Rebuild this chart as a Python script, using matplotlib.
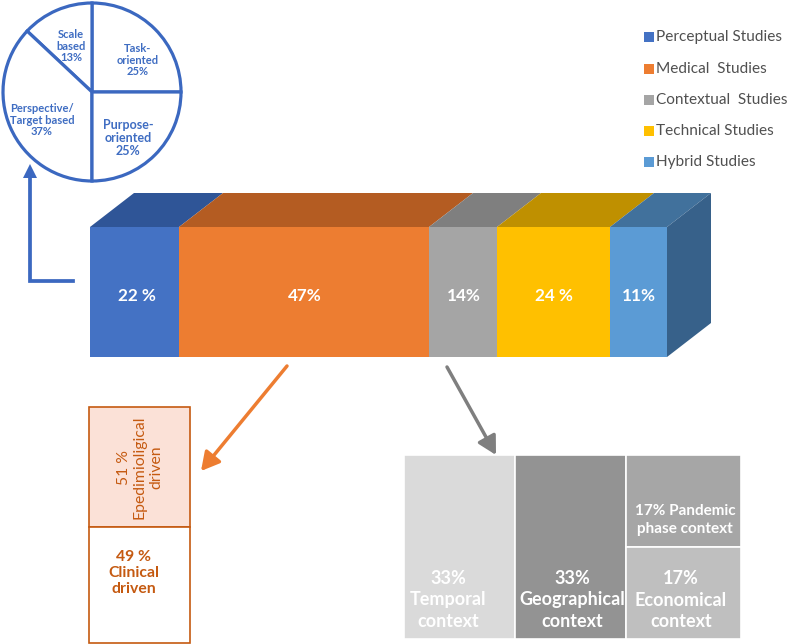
import numpy as np
import matplotlib
matplotlib.use('Agg')
import matplotlib.pyplot as plt
from matplotlib.patches import Polygon, Rectangle

plt.rcParams['font.family'] = ['Lato', 'DejaVu Sans']

# main bar (study types)
categories = ['Perceptual Studies', 'Medical  Studies', 'Contextual  Studies',
              'Technical Studies', 'Hybrid Studies']
shares = [22, 47, 14, 24, 11]
share_labels = ['22 %', '47%', '14%', '24 %', '11%']
bar_widths = [89, 250, 68, 113, 57]   # drawn widths (infographic, not to scale)
front_cols = ['#4472C4', '#ED7D31', '#A5A5A5', '#FFC000', '#5B9BD5']
top_cols = ['#2F5597', '#B45C22', '#7F7F7F', '#BF9000', '#41719C']

# pie (perceptual studies breakdown)
pie_labels = ['Task-\noriented\n25%', 'Scale\nbased\n13%',
              'Perspective/\nTarget based\n37%', 'Purpose-\noriented\n25%']
pie_values = [25, 13, 37, 25]

# medical breakdown
med_labels = ['51 %\nEpedimioligical\ndriven', '49 %\nClinical\ndriven']
med_values = [51, 49]

# contextual breakdown (treemap)
ctx_labels = ['33%\nTemporal\ncontext', '33%\nGeographical\ncontext',
              '17% Pandemic\nphase context', '17%\nEconomical\ncontext']
ctx_values = [33, 33, 17, 17]
ctx_cols = ['#DADADA', '#939393', '#A6A6A6', '#BFBFBF']

blue = '#3B68C0'
dark_orange = '#C55A11'

fig = plt.figure(figsize=(7.87, 6.44), dpi=100)
ax = fig.add_axes([0, 0, 1, 1])

# ---- pie
ax.pie(pie_values, center=(92, 92), radius=89, startangle=0, counterclock=False,
       frame=True, wedgeprops=dict(facecolor='white', edgecolor=blue, linewidth=2.3))
pie_pos = [(138, 60), (71, 46), (42, 120), (128, 138)]
pie_fs = [8.0, 8.0, 8.0, 9.0]
for lab, (x, y), fs in zip(pie_labels, pie_pos, pie_fs):
    ax.text(x, y, lab, ha='center', va='center', color='#3F6DC2', fontsize=fs,
            fontweight='bold', linespacing=1.1)

# L-shaped arrow back to pie
ax.plot([73, 30, 30], [281, 281, 176], color=blue, lw=2.7, solid_joinstyle='miter')
ax.add_patch(Polygon([(30, 164), (23, 178), (37, 178)], closed=True,
                     facecolor=blue, edgecolor='none'))

# ---- 3d stacked bar
y0, h = 227, 130
dx, dy = 44, -34
lefts = 90 + np.concatenate([[0], np.cumsum(bar_widths)[:-1]])
ax.barh(y0 + h / 2, bar_widths, left=lefts, height=h, color=front_cols, linewidth=0)
for l, w, c in zip(lefts, bar_widths, top_cols):
    ax.add_patch(Polygon([(l, y0), (l + w, y0), (l + w + dx, y0 + dy), (l + dx, y0 + dy)],
                         closed=True, facecolor=c, edgecolor='none'))
r = lefts[-1] + bar_widths[-1]
ax.add_patch(Polygon([(r, y0), (r + dx, y0 + dy), (r + dx, y0 + h + dy), (r, y0 + h)],
                     closed=True, facecolor='#37618A', edgecolor='none'))
label_x = [137, 305, 464, 554, 639]
for lab, x in zip(share_labels, label_x):
    ax.text(x, 296, lab, ha='center', va='center', color='white', fontsize=12.3,
            fontweight='bold')

# ---- legend
leg_y = [37, 69, 100, 131, 162]
for cat, c, yy in zip(categories, front_cols, leg_y):
    ax.scatter([648.5], [yy], marker='s', s=42, color=c, linewidths=0)
    ax.text(656, yy, cat, ha='left', va='center', color='#505050', fontsize=11.1)

# ---- arrows
ax.annotate('', xy=(201, 471), xytext=(287, 366),
            arrowprops=dict(arrowstyle='-|>,head_length=0.55,head_width=0.3',
                            mutation_scale=20, lw=2.5, color='#ED7D31',
                            shrinkA=0, shrinkB=0))
ax.annotate('', xy=(496, 455), xytext=(447, 367),
            arrowprops=dict(arrowstyle='-|>,head_length=0.55,head_width=0.3',
                            mutation_scale=20, lw=2.5, color='#7F7F7F',
                            shrinkA=0, shrinkB=0))

# ---- medical box
bx0, bx1, by0, by1 = 89, 190, 407, 643
split = by0 + (by1 - by0) * med_values[0] / sum(med_values)
ax.add_patch(Rectangle((bx0, by0), bx1 - bx0, split - by0, facecolor='#FBE1D7',
                       edgecolor=dark_orange, lw=1.2))
ax.add_patch(Rectangle((bx0, split), bx1 - bx0, by1 - split, facecolor='white',
                       edgecolor=dark_orange, lw=1.2))
ax.text(140, (by0 + split) / 2, med_labels[0], rotation=90, ha='center', va='center',
        color=dark_orange, fontsize=11.3, linespacing=1.2)
ax.text(134, 573, med_labels[1], ha='center', va='center', color=dark_orange,
        fontsize=11.3, fontweight='bold', linespacing=1.2)

# ---- contextual treemap
tx0, tx1, ty0, ty1 = 404, 741, 455, 639
tot = sum(ctx_values)
col_w = [(tx1 - tx0) * v / tot for v in (ctx_values[0], ctx_values[1],
                                          ctx_values[2] + ctx_values[3])]
xs = tx0 + np.concatenate([[0], np.cumsum(col_w)])
ymid = ty0 + (ty1 - ty0) * ctx_values[2] / (ctx_values[2] + ctx_values[3])
rects = [(xs[0], ty0, col_w[0], ty1 - ty0),
         (xs[1], ty0, col_w[1], ty1 - ty0),
         (xs[2], ty0, col_w[2], ymid - ty0),
         (xs[2], ymid, col_w[2], ty1 - ymid)]
for (x, y, w, hh), c in zip(rects, ctx_cols):
    ax.add_patch(Rectangle((x, y), w, hh, facecolor=c, edgecolor='white', lw=1.2))
ctx_pos = [(448, 600), (572, 600), (685, 520), (681, 600)]
ctx_fs = [13.0, 13.0, 11.0, 13.0]
for lab, (x, y), fs in zip(ctx_labels, ctx_pos, ctx_fs):
    ax.text(x, y, lab, ha='center', va='center', color='white', fontsize=fs,
            fontweight='bold', linespacing=1.3)

ax.set_xlim(0, 787)
ax.set_ylim(644, 0)
ax.axis('off')
fig.savefig('out.png', dpi=100)
